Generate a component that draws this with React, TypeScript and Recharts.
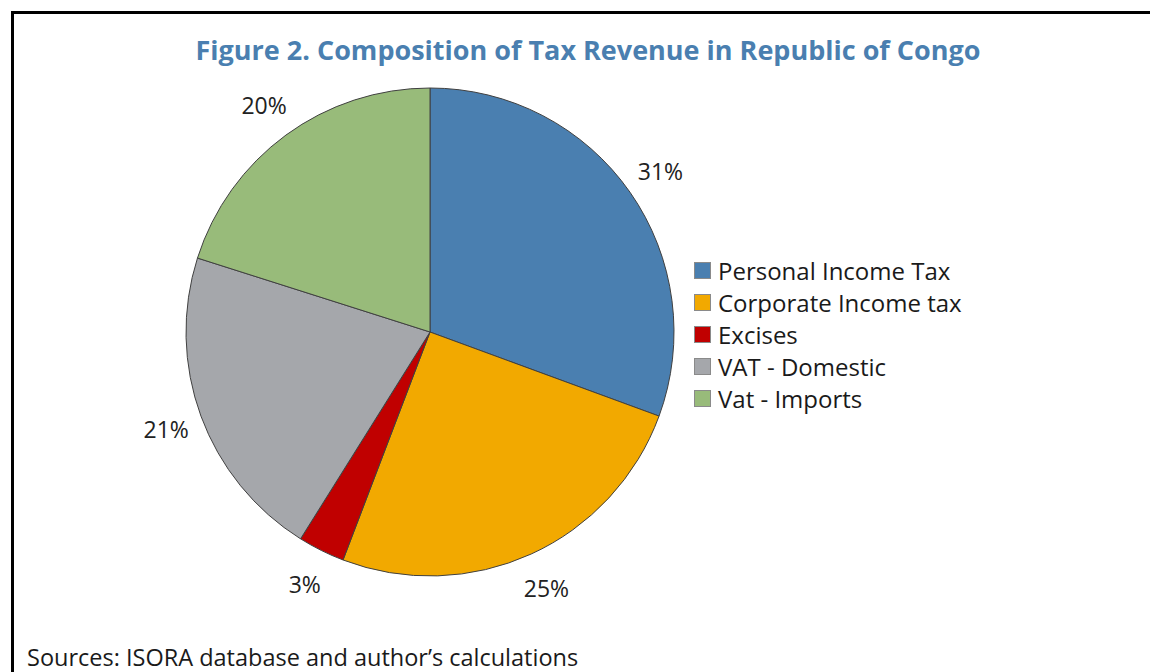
import React from "react";
import { PieChart, Pie, Cell, Legend } from "recharts";

const CATEGORIES = ["Personal Income Tax", "Corporate Income tax", "Excises", "VAT - Domestic", "Vat - Imports"];
const SHARES = [30.6, 25.2, 3.1, 21.0, 20.1];
const COLORS = ["#4a7fb0", "#f2a900", "#c00000", "#a5a7ab", "#98bb7a"];

const data = CATEGORIES.map((name, i) => ({ name, value: SHARES[i] }));

const FONT = "'Open Sans', 'Noto Sans', sans-serif";
const RAD = Math.PI / 180;

const renderLabel = (props: any) => {
  const { cx, cy, midAngle, outerRadius, value } = props;
  const r = outerRadius + 37;
  const x = cx + r * Math.cos(-midAngle * RAD);
  const y = cy + r * Math.sin(-midAngle * RAD);
  return (
    <text x={x} y={y} textAnchor="middle" dominantBaseline="central" fill="#222" fontSize={23} fontFamily={FONT}>
      {`${Math.round(value)}%`}
    </text>
  );
};

// keep the legend in data order (recharts sorts its payload by name)
const renderLegend = () => (
  <div style={{ fontFamily: FONT }}>
    {CATEGORIES.map((name, i) => (
      <div key={name} style={{ display: "flex", alignItems: "center", height: 32 }}>
        <span
          style={{
            display: "inline-block",
            width: 15,
            height: 15,
            background: COLORS[i],
            border: "1px solid #8a8a8a",
            marginRight: 7,
          }}
        />
        <span style={{ fontSize: 24, color: "#1a1a1a", whiteSpace: "nowrap" }}>{name}</span>
      </div>
    ))}
  </div>
);

export default function App() {
  return (
    <div style={{ position: "absolute", left: 0, top: 0, width: 1150, height: 672, background: "#fff", overflow: "hidden" }}>
      <div style={{ position: "absolute", left: 11, top: 11, width: 1160, height: 700, borderTop: "3px solid #000", borderLeft: "3px solid #000" }} />
      <div
        style={{
          position: "absolute",
          left: 0,
          top: 31,
          width: 1176,
          textAlign: "center",
          fontFamily: FONT,
          fontWeight: 700,
          fontSize: 27,
          color: "#4a7fb0",
        }}
      >
        Figure 2. Composition of Tax Revenue in Republic of Congo
      </div>
      <div style={{ position: "absolute", left: 0, top: 0 }}>
        <PieChart width={1150} height={672}>
          <Pie
            data={data}
            dataKey="value"
            nameKey="name"
            cx={425}
            cy={327}
            outerRadius={244}
            startAngle={90}
            endAngle={-270}
            stroke="#404040"
            strokeWidth={1}
            label={renderLabel}
            labelLine={false}
            isAnimationActive={false}
          >
            {data.map((d, i) => (
              <Cell key={d.name} fill={COLORS[i]} />
            ))}
          </Pie>
          <Legend
            content={renderLegend}
            wrapperStyle={{ position: "absolute", left: 694, top: 254, width: 340 }}
          />
        </PieChart>
      </div>
      <div style={{ position: "absolute", left: 27, top: 641, fontFamily: FONT, fontSize: 23.5, color: "#1a1a1a", whiteSpace: "nowrap" }}>
        Sources: ISORA database and author’s calculations
      </div>
    </div>
  );
}
